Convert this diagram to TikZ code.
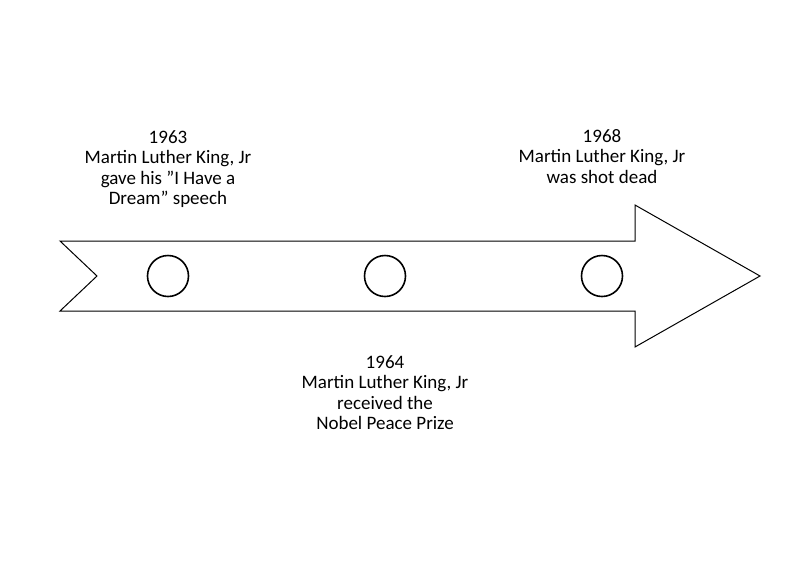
\documentclass[tikz,border=0pt]{standalone}
\usepackage{fontspec}
\setmainfont{Carlito}
\usepackage{tikz}

\begin{document}
\begin{tikzpicture}[x=1pt,y=-1pt,
		dot/.style={circle,draw,line width=1.6pt,minimum size=41pt,inner sep=0pt},
		event/.style={align=center,anchor=north,inner sep=0pt,font=\fontsize{19pt}{20.6pt}\selectfont}]
				\useasboundingbox (0,0) rectangle (800,566);
				\draw[line width=1pt] (60,241) -- (635,241) -- (635,205) -- (760,276) -- (635,347) -- (635,311) -- (60,311) -- (97,276) -- cycle;
				\node[dot] (A) at (168,276) {};
				\node[dot] (B) at (385,276) {};
				\node[dot] (C) at (602,276) {};
				\node[event] (TA) at (168,130) {1963\\Martin Luther King, Jr\\gave his ”I Have a\\Dream” speech};
				\node[event] (TB) at (385,355) {1964\\Martin Luther King, Jr\\received the\\Nobel Peace Prize};
				\node[event] (TC) at (602,129) {1968\\Martin Luther King, Jr\\was shot dead};
			\end{tikzpicture}
\end{document}
